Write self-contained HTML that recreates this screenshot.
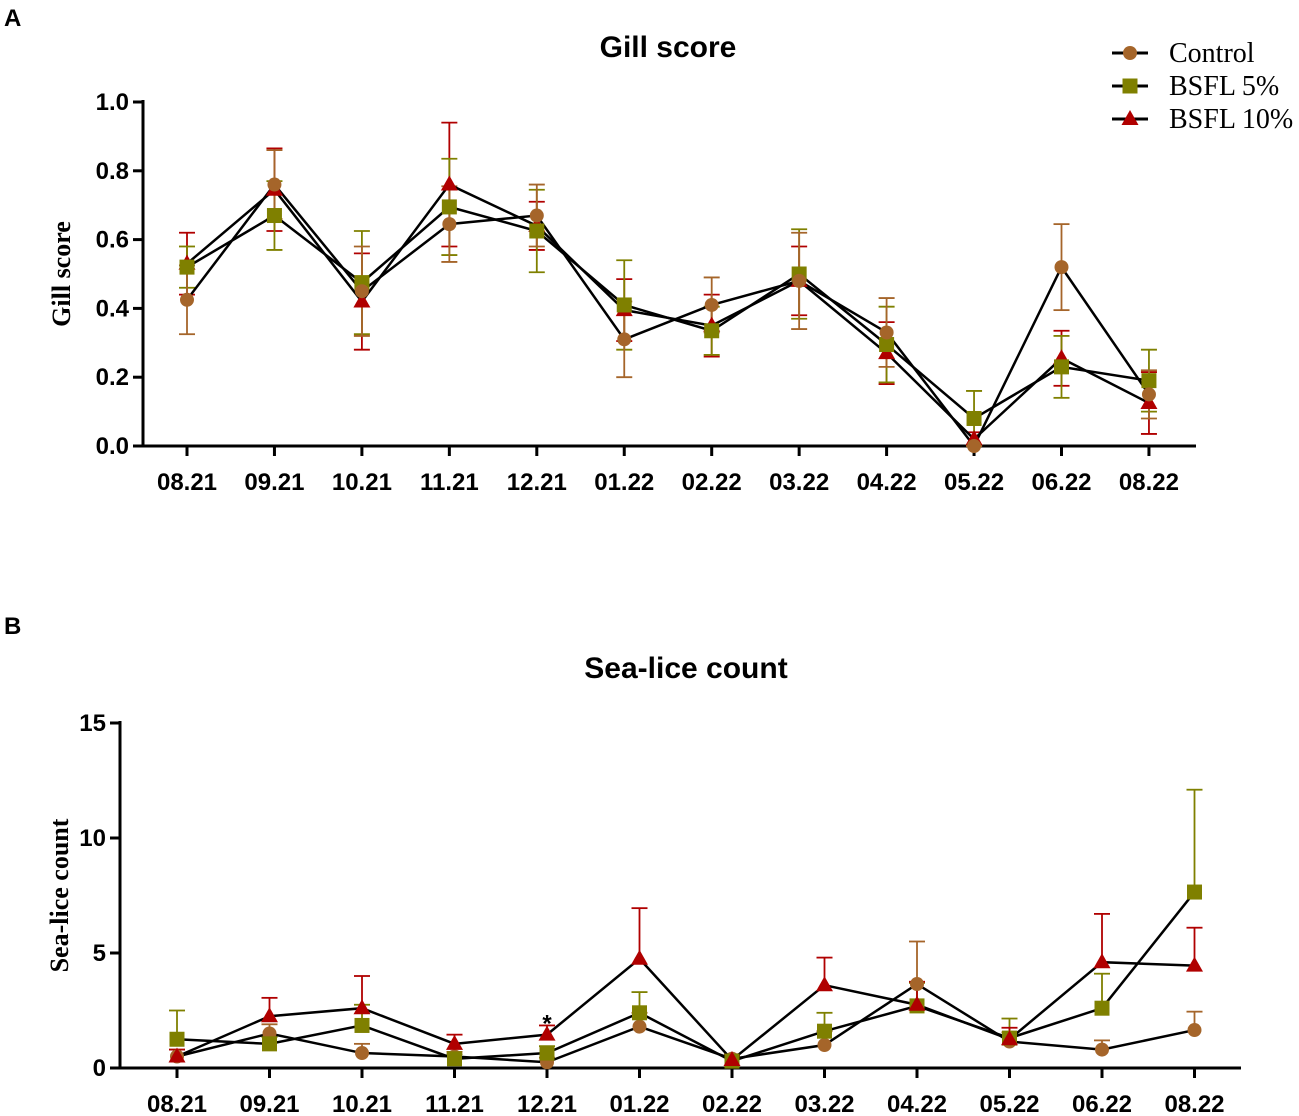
<!DOCTYPE html>
<html><head><meta charset="utf-8"><style>
body{margin:0;background:#fff;width:1299px;height:1116px;overflow:hidden}
svg{display:block}
.t{font-family:"Liberation Sans",sans-serif;font-weight:bold}
.s{font-family:"Liberation Serif",serif}
</style></head><body>
<svg id="c" width="1299" height="1116"></svg>
<script>
const cats=["08.21","09.21","10.21","11.21","12.21","01.22","02.22","03.22","04.22","05.22","06.22","08.22"];
const gillCtrl=[0.425,0.76,0.45,0.645,0.67,0.31,0.41,0.48,0.33,0.0,0.52,0.15];
const gillCtrlErr=[0.1,0.1,0.13,0.11,0.09,0.11,0.08,0.14,0.1,0.0,0.125,0.07];
const gill5=[0.52,0.67,0.475,0.695,0.625,0.41,0.335,0.5,0.295,0.08,0.23,0.19];
const gill5Err=[0.06,0.1,0.15,0.14,0.12,0.13,0.07,0.13,0.11,0.08,0.09,0.09];
const gill10=[0.53,0.745,0.42,0.76,0.64,0.395,0.35,0.48,0.27,0.02,0.255,0.125];
const gill10Err=[0.09,0.12,0.14,0.18,0.07,0.09,0.09,0.1,0.09,0.02,0.08,0.09];
const gillTicks=["0.0","0.2","0.4","0.6","0.8","1.0"];
const liceCtrl=[0.5,1.5,0.65,0.5,0.25,1.8,0.4,1.0,3.65,1.15,0.8,1.65];
const liceCtrlErr=[0.3,0.4,0.4,0.2,0.2,0.6,0.2,0.6,1.85,0.4,0.4,0.8];
const lice5=[1.25,1.05,1.85,0.4,0.65,2.4,0.3,1.6,2.7,1.3,2.6,7.65];
const lice5Err=[1.25,0.3,0.9,0.2,0.3,0.9,0.2,0.8,1.0,0.85,1.5,4.45];
const lice10=[0.5,2.25,2.6,1.05,1.45,4.75,0.35,3.6,2.75,1.25,4.6,4.45];
const lice10Err=[0.3,0.8,1.4,0.4,0.4,2.2,0.2,1.2,1.0,0.5,2.1,1.65];
const liceTicks=["0","5","10","15"];
const NS="http://www.w3.org/2000/svg";
const svg=document.getElementById('c');
function mk(t,a,p){const e=document.createElementNS(NS,t);for(const k in a)e.setAttribute(k,a[k]);(p||svg).appendChild(e);return e;}
const colors={c:"#a5652a",f:"#7f8000",t:"#b00000"};
function panel(o){
 const g=mk('g',{});
 
 
 const sx=i=>o.x0+i*o.step, sy=v=>o.y0-(v/o.max)*(o.y0-o.y1);
 let e=mk('text',{x:o.titleX,y:o.titleY,'font-size':30,'text-anchor':'middle',class:'t'},g);e.textContent=o.title;
 
 e=mk('text',{x:0,y:0,'font-size':26,'font-weight':'bold','text-anchor':'middle',class:'s',transform:`translate(${o.ytx},${(o.y0+o.y1)/2}) rotate(-90)`},g);e.textContent=o.title;
 
 e=mk('text',{x:4,y:o.letterY,'font-size':24,class:'t'},g);e.textContent=o.letter;
 
 mk('line',{x1:o.ax,y1:o.y1-2,x2:o.ax,y2:o.y0+1.5,stroke:'#000','stroke-width':3},g);
 mk('line',{x1:o.ax-1.5,y1:o.y0,x2:o.xEnd,y2:o.y0,stroke:'#000','stroke-width':3},g);
 o.ticks.forEach((t,i)=>{const v=o.max*i/(o.ticks.length-1),y=sy(v);
  mk('line',{x1:o.ax-10,y1:y,x2:o.ax,y2:y,stroke:'#000','stroke-width':3},g);
  const tx=mk('text',{x:o.ax-14,y:y+8,'font-size':24,'text-anchor':'end',class:'t'},g);tx.textContent=t;
  });
 cats.forEach((c,i)=>{const x=sx(i);mk('line',{x1:x,y1:o.y0,x2:x,y2:o.y0+10,stroke:'#000','stroke-width':3},g);
  const tx=mk('text',{x:x,y:o.y0+44,'font-size':24,'text-anchor':'middle',class:'t'},g);tx.textContent=c;
  });
 o.series.forEach(s=>{
  s.v.forEach((v,i)=>{const x=sx(i),yt=sy(v+s.e[i]),yb=sy(Math.max(0,v-(o.sym?s.e[i]:0)));
   mk('line',{x1:x,y1:yt,x2:x,y2:yb,stroke:s.col,'stroke-width':1.8},g);
   mk('line',{x1:x-8,y1:yt,x2:x+8,y2:yt,stroke:s.col,'stroke-width':1.8},g);
   if(o.sym)mk('line',{x1:x-8,y1:yb,x2:x+8,y2:yb,stroke:s.col,'stroke-width':1.8},g);});
 });
 o.series.forEach(s=>{
  const l=mk('polyline',{points:s.v.map((v,i)=>sx(i)+','+sy(v)).join(' '),fill:'none',stroke:'#000','stroke-width':2.5},g);
  
 });
 o.series.forEach(s=>{s.v.forEach((v,i)=>{const m=marker(s.k,sx(i),sy(v),g);
  });});
 return {sx,sy,g};
}
function marker(k,x,y,g){
 if(k=='c')return mk('circle',{cx:x,cy:y,r:7,fill:colors.c},g);
 if(k=='f')return mk('rect',{x:x-7.5,y:y-7.5,width:15,height:15,fill:colors.f},g);
 return mk('polygon',{points:`${x},${y-9} ${x-8.5},${y+6} ${x+8.5},${y+6}`,fill:colors.t},g);
}
panel({name:'gill-score-panel',title:'Gill score',letter:'A',letterY:26,titleX:668,titleY:57,ytx:70,ax:143,x0:187,step:87.45,xEnd:1196,y0:446,y1:102,max:1,sym:true,ticks:gillTicks,
 series:[{name:'bsfl-10',k:'t',col:colors.t,v:gill10,e:gill10Err},{name:'bsfl-5',k:'f',col:colors.f,v:gill5,e:gill5Err},{name:'control',k:'c',col:colors.c,v:gillCtrl,e:gillCtrlErr}]});
const p=panel({name:'sea-lice-panel',title:'Sea-lice count',letter:'B',letterY:634,titleX:686,titleY:678,ytx:68,ax:120,x0:177,step:92.5,xEnd:1241,y0:1068,y1:723,max:15,sym:false,ticks:liceTicks,
 series:[{name:'control',k:'c',col:colors.c,v:liceCtrl,e:liceCtrlErr},{name:'bsfl-5',k:'f',col:colors.f,v:lice5,e:lice5Err},{name:'bsfl-10',k:'t',col:colors.t,v:lice10,e:lice10Err}]});
let st=mk('text',{x:p.sx(4),y:p.sy(lice10[4]+lice10Err[4])+6,'font-size':24,'font-weight':'bold','text-anchor':'middle',class:'t'});st.textContent='*';

const lg=mk('g',{});

[['Control','c'],['BSFL 5%','f'],['BSFL 10%','t']].forEach((d,i)=>{const y=53+i*33;
 const eg=mk('g',{},lg);
 
 mk('line',{x1:1112,y1:y,x2:1148,y2:y,stroke:'#000','stroke-width':3},eg);
 marker(d[1],1130,y,eg);
 const t=mk('text',{x:1169,y:y+9,'font-size':28,class:'s'},eg);t.textContent=d[0];});
</script>
</body></html>
